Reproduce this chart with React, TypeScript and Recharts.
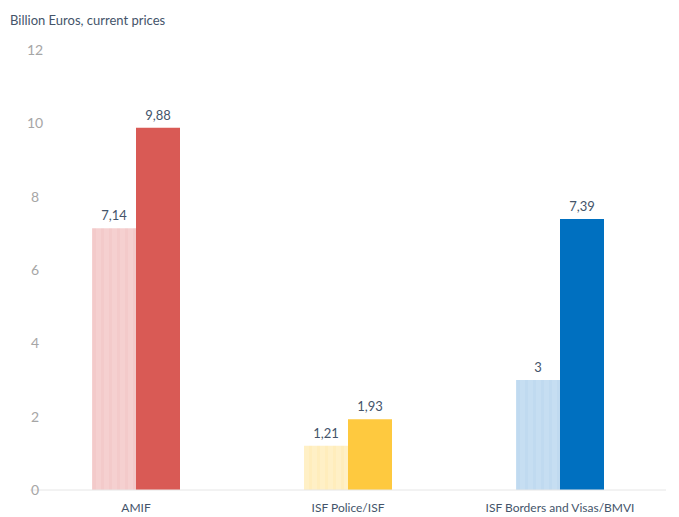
import { BarChart, Bar, XAxis, YAxis, Cell, LabelList } from 'recharts';

const categories = ['AMIF', 'ISF Police/ISF', 'ISF Borders and Visas/BMVI'];
const previousPeriod = [7.14, 1.21, 3];
const currentPeriod = [9.88, 1.93, 7.39];
const yTicks = [0, 2, 4, 6, 8, 10, 12];

const LIGHT = ['url(#stripeRed)', 'url(#stripeYellow)', 'url(#stripeBlue)'];
const SOLID = ['#d95a55', '#fec93f', '#0070c0'];

const data = categories.map((name, i) => ({
  name,
  previous: previousPeriod[i],
  current: currentPeriod[i],
}));

const fmt = (v: number) => String(v).replace('.', ',');

const YTick = ({ y, payload }: any) => (
  <text x={35} y={y} dy={5} textAnchor="middle" fill="#a6a6a6" fontSize={14}>
    {payload.value}
  </text>
);

const XTick = ({ x, y, payload }: any) => (
  <text x={x} y={y + 14} textAnchor="middle" fill="#44546a" fontSize={12}>
    {payload.value}
  </text>
);

export default function App() {
  return (
    <div style={{ position: 'absolute', left: 0, top: 0, fontFamily: 'Lato, sans-serif' }}>
      <div
        style={{
          position: 'absolute',
          left: 10,
          top: 12,
          fontSize: 13,
          color: '#44546a',
          whiteSpace: 'nowrap',
        }}
      >
        Billion Euros, current prices
      </div>
      <BarChart
        width={679}
        height={517}
        data={data}
        margin={{ top: 50, right: 13, bottom: 0, left: 0 }}
        barGap={0}
      >
        <defs>
          <pattern id="stripeRed" width="8" height="4" patternUnits="userSpaceOnUse">
            <rect width="8" height="4" fill="#f5d0d0" />
            <rect x="5" width="3" height="4" fill="#f3caca" />
          </pattern>
          <pattern id="stripeYellow" width="8" height="4" patternUnits="userSpaceOnUse">
            <rect width="8" height="4" fill="#fff0c6" />
            <rect x="5" width="3" height="4" fill="#ffedbc" />
          </pattern>
          <pattern id="stripeBlue" width="8" height="4" patternUnits="userSpaceOnUse">
            <rect width="8" height="4" fill="#c6def2" />
            <rect x="5" width="3" height="4" fill="#c0daf0" />
          </pattern>
        </defs>
        <XAxis
          dataKey="name"
          height={27}
          tickLine={false}
          axisLine={{ stroke: '#e6e6e6' }}
          tick={<XTick />}
          interval={0}
        />
        <YAxis
          width={30}
          domain={[0, 12]}
          ticks={yTicks}
          axisLine={false}
          tickLine={false}
          tick={<YTick />}
          interval={0}
        />
        <Bar dataKey="previous" barSize={44} isAnimationActive={false}>
          {data.map((_, i) => (
            <Cell key={`p-${i}`} fill={LIGHT[i]} />
          ))}
          <LabelList
            dataKey="previous"
            position="top"
            offset={8}
            formatter={(v: any) => fmt(v)}
            fill="#44546a"
            fontSize={13}
          />
        </Bar>
        <Bar dataKey="current" barSize={44} isAnimationActive={false}>
          {data.map((_, i) => (
            <Cell key={`c-${i}`} fill={SOLID[i]} />
          ))}
          <LabelList
            dataKey="current"
            position="top"
            offset={8}
            formatter={(v: any) => fmt(v)}
            fill="#44546a"
            fontSize={13}
          />
        </Bar>
      </BarChart>
    </div>
  );
}
